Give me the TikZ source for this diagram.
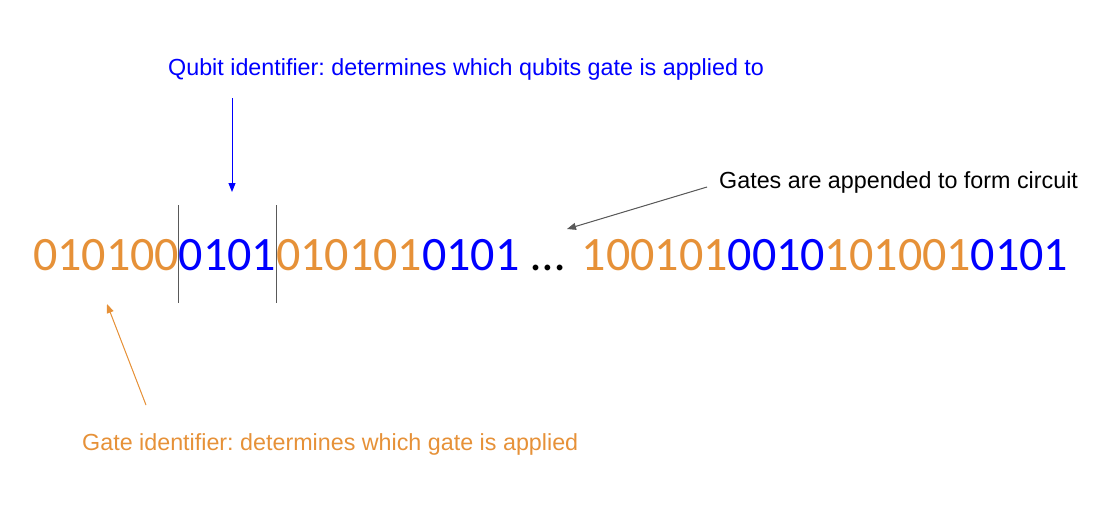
\documentclass[tikz,border=0pt]{standalone}
\usepackage{fontspec}
\setmainfont{Liberation Sans}
\newfontfamily\digitfont{Carlito}
\usetikzlibrary{arrows.meta}
\definecolor{gorange}{HTML}{E69138}
\definecolor{gblue}{HTML}{0000FF}
\definecolor{ggray}{HTML}{595959}
\frenchspacing
\begin{document}
\begin{tikzpicture}[x=1pt,y=-1pt,
  bits/.style={inner sep=0pt,outer sep=0pt,anchor=base west,font=\digitfont\fontsize{48}{48}\selectfont},
  ob/.style={bits,text=gorange},
  bb/.style={bits,text=gblue},
  lbl/.style={inner sep=0pt,anchor=base west,font=\fontsize{23.3}{23.3}\selectfont},
  sep/.style={draw=ggray,line width=1pt},
  ann/.style={line width=1pt,-{Triangle[length=9pt,width=7pt]}}]
\useasboundingbox (0,0) rectangle (1119,520);
% bit string
\node[ob] (s1) at (33,270) {010100};
\node[bb] (s2) at (s1.base east) {0101};
\node[ob] (s3) at (s2.base east) {010101};
\node[bb] (s4) at (s3.base east) {0101};
\node[bits] (s5) at (s4.base east) {\kern12pt…\kern17pt};
\node[ob] (s6) at (s5.base east) {100101};
\node[bb] (s7) at (s6.base east) {0010};
\node[ob] (s8) at (s7.base east) {101001};
\node[bb] (s9) at (s8.base east) {0101};
% separators
\coordinate (l1t) at ([yshift=65pt]s1.base east);
\coordinate (l1b) at ([yshift=-33pt]s1.base east);
\coordinate (l2t) at ([yshift=65pt]s2.base east);
\coordinate (l2b) at ([yshift=-33pt]s2.base east);
\draw[sep] (l1t) -- (l1b);
\draw[sep] (l2t) -- (l2b);
% labels
\node[lbl,text=gblue] (qlab) at (168,75) {Qubit identifier: determines which qubits gate is applied to};
\node[lbl,text=black] (glab) at (719,188) {Gates are appended to form circuit};
\node[lbl,text=gorange] (olab) at (82,450) {Gate identifier: determines which gate is applied};
% arrows
\coordinate (qa) at (232,98);
\coordinate (qb) at (232,192);
\draw[ann,draw=gblue,fill=gblue] (qa) -- (qb);
\coordinate (ga) at (707,187);
\coordinate (gb) at (567,229);
\draw[ann,draw=ggray,fill=ggray] (ga) -- (gb);
\coordinate (oa) at (146,405);
\coordinate (ob) at (107,304);
\draw[ann,draw=gorange,fill=gorange] (oa) -- (ob);
\end{tikzpicture}
\end{document}
